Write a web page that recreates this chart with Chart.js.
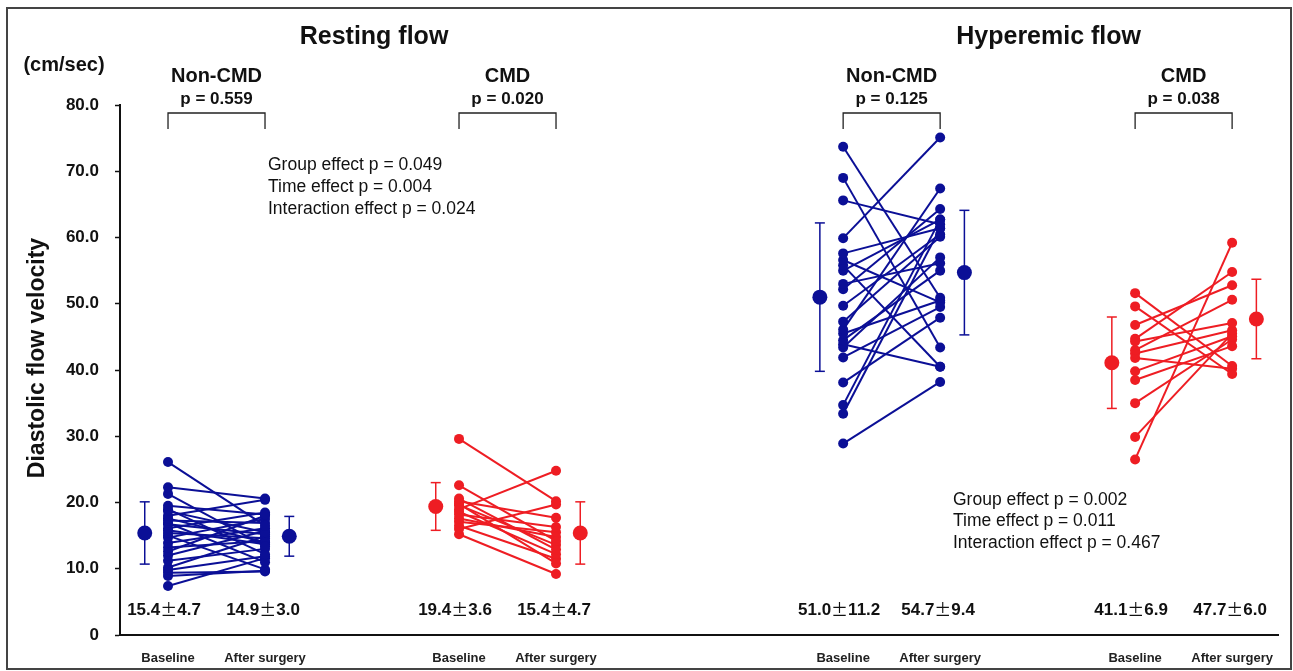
<!DOCTYPE html>
<html><head><meta charset="utf-8">
<script src="https://cdn.jsdelivr.net/npm/chart.js@4.4.1/dist/chart.umd.min.js"></script>
<style>html,body{margin:0;padding:0;background:#fff;overflow:hidden}#wrap{width:1293px;height:671px;position:relative}</style>
</head><body><div id="wrap"><canvas id="c" width="1293" height="671"></canvas></div>
<script>
// ---------- data ----------
const panelTitles = ['Resting flow', 'Hyperemic flow'];
const groupNames = ['Non-CMD', 'CMD', 'Non-CMD', 'CMD'];
const pValues = ['p = 0.559', 'p = 0.020', 'p = 0.125', 'p = 0.038'];
const groupPos = [0, 3, 6.96, 9.97];          // baseline slot of each group; after = +1
const timeLabels = ['Baseline', 'After surgery'];
const yTicks = [0, 10, 20, 30, 40, 50, 60, 70, 80];

const restNonCmdBase  = [26.1, 22.3, 21.3, 19.5, 19.0, 18.7, 18.0, 17.6, 17.3, 16.9, 16.7, 16.1, 15.8, 15.4, 15.0, 14.7, 13.9, 13.2, 12.6, 12.0, 11.2, 10.2, 9.8, 9.4, 8.9, 7.4];
const restNonCmdAfter = [16.5, 20.6, 13.4, 18.2, 12.2, 15.5, 20.4, 14.0, 16.9, 11.0, 15.2, 18.5, 13.7, 14.6, 9.9, 17.5, 16.1, 14.2, 18.0, 15.7, 13.0, 14.9, 11.9, 9.6, 9.7, 11.6];

const restCmdBase  = [29.6, 22.6, 20.6, 20.2, 19.8, 19.6, 19.0, 18.6, 18.2, 17.6, 17.1, 16.5, 16.0, 15.2];
const restCmdAfter = [20.2, 14.2, 12.9, 17.7, 10.8, 13.6, 24.8, 12.2, 16.3, 14.8, 15.5, 11.5, 19.7, 9.2];

const hypNonCmdBase  = [73.7, 69.0, 65.6, 59.9, 57.6, 56.6, 55.8, 55.0, 53.0, 52.2, 49.7, 47.3, 46.1, 45.5, 44.5, 43.9, 43.4, 41.9, 38.1, 34.7, 33.4, 28.9];
const hypNonCmdAfter = [50.9, 43.4, 62.0, 75.1, 61.4, 50.2, 40.5, 62.7, 56.1, 64.3, 60.5, 60.1, 67.4, 50.5, 55.0, 40.5, 57.0, 49.5, 47.9, 62.7, 61.4, 38.2];

const hypCmdBase  = [51.6, 49.6, 46.8, 44.7, 44.3, 43.0, 42.5, 41.8, 39.8, 38.5, 35.0, 29.9, 26.5];
const hypCmdAfter = [40.6, 39.4, 52.8, 54.8, 47.1, 50.6, 46.0, 40.2, 45.1, 43.6, 44.6, 45.5, 59.2];

const meanValues = [15.4, 14.9, 19.4, 15.4, 51.0, 54.7, 41.1, 47.7];
const sdValues   = [4.7, 3.0, 3.6, 4.7, 11.2, 9.4, 6.9, 6.0];
const meanText   = ['15.4', '14.9', '19.4', '15.4', '51.0', '54.7', '41.1', '47.7'];
const sdText     = ['4.7', '3.0', '3.6', '4.7', '11.2', '9.4', '6.9', '6.0'];

const statsRest  = ['Group effect p = 0.049', 'Time effect p = 0.004', 'Interaction effect p = 0.024'];
const statsHyper = ['Group effect p = 0.002', 'Time effect p = 0.011', 'Interaction effect p = 0.467'];

// ---------- styles ----------
const BLUE = '#0b0f96', RED = '#ee1d23';
const groupColors = [BLUE, RED, BLUE, RED];
const FONT = '"Liberation Sans", Arial, Helvetica, sans-serif';
const CJK = '"Noto Sans CJK JP", "Noto Sans CJK SC", sans-serif';

const pairs = [
  [restNonCmdBase, restNonCmdAfter],
  [restCmdBase, restCmdAfter],
  [hypNonCmdBase, hypNonCmdAfter],
  [hypCmdBase, hypCmdAfter]
];

const datasets = [];
pairs.forEach(([b, a], g) => {
  const col = groupColors[g];
  b.forEach((v, i) => {
    datasets.push({
      data: [{x: groupPos[g], y: v}, {x: groupPos[g] + 1, y: a[i]}],
      showLine: true, borderColor: col, borderWidth: 2,
      pointRadius: 5, pointBackgroundColor: col, pointBorderWidth: 0,
      order: 2
    });
  });
  [[-0.24, 0], [1.25, 1]].forEach(([off, t]) => {
    const k = g * 2 + t, x = groupPos[g] + off;
    datasets.push({
      data: [{x, y: meanValues[k] - sdValues[k]}, {x, y: meanValues[k] + sdValues[k]}],
      showLine: true, borderColor: col, borderWidth: 1.5,
      pointStyle: 'line', pointRadius: 5, pointBorderColor: col, pointBorderWidth: 1.5,
      order: 1
    });
    datasets.push({
      data: [{x, y: meanValues[k]}],
      pointRadius: 7.5, pointBackgroundColor: col, pointBorderWidth: 0,
      order: 0
    });
  });
});

const xTickValues = [];
groupPos.forEach(p => { xTickValues.push(p, p + 1); });

function txt(ctx, s, x, y, font, align) {
  ctx.font = font; ctx.textAlign = align || 'center'; ctx.textBaseline = 'middle';
  ctx.fillStyle = '#111'; ctx.fillText(s, x, y);
}
// "m±sd" with a full-width ± sign, centred at x
function meanSd(ctx, m, sd, x, y) {
  const f1 = 'bold 17px ' + FONT, f2 = '17px ' + CJK;
  ctx.font = f1; const w1 = ctx.measureText(m).width, w3 = ctx.measureText(sd).width;
  ctx.font = f2; const w2 = ctx.measureText('\u00b1').width;
  let left = x - (w1 + w2 + w3) / 2;
  txt(ctx, m, left, y, f1, 'left'); left += w1;
  txt(ctx, '\u00b1', left, y, f2, 'left'); left += w2;
  txt(ctx, sd, left, y, f1, 'left');
}

const annot = {
  id: 'annot',
  beforeDraw(chart) {
    const ctx = chart.ctx;
    ctx.save(); ctx.fillStyle = '#fff'; ctx.fillRect(0, 0, chart.width, chart.height); ctx.restore();
  },
  afterDraw(chart) {
    const ctx = chart.ctx, xs = chart.scales.x;
    ctx.save();
    ctx.strokeStyle = '#444'; ctx.lineWidth = 2;
    ctx.strokeRect(7, 8, 1284, 661);
    const c1 = xs.getPixelForValue((groupPos[0] + groupPos[1] + 1) / 2) + 12;
    const c2 = xs.getPixelForValue((groupPos[2] + groupPos[3] + 1) / 2) + 11;
    txt(ctx, panelTitles[0], c1, 37, 'bold 25px ' + FONT);
    txt(ctx, panelTitles[1], c2, 37, 'bold 25px ' + FONT);
    txt(ctx, '(cm/sec)', 64, 65, 'bold 20px ' + FONT);
    ctx.save(); ctx.translate(38, 358); ctx.rotate(-Math.PI / 2);
    txt(ctx, 'Diastolic flow velocity', 0, 0, 'bold 23px ' + FONT);
    ctx.restore();
    groupPos.forEach((p, g) => {
      const xb = xs.getPixelForValue(p), xa = xs.getPixelForValue(p + 1), xm = (xb + xa) / 2;
      txt(ctx, groupNames[g], xm, 76, 'bold 20px ' + FONT);
      txt(ctx, pValues[g], xm, 99, 'bold 17px ' + FONT);
      ctx.strokeStyle = '#222'; ctx.lineWidth = 1.3;
      ctx.beginPath(); ctx.moveTo(xb, 129); ctx.lineTo(xb, 113); ctx.lineTo(xa, 113); ctx.lineTo(xa, 129); ctx.stroke();
      meanSd(ctx, meanText[g * 2], sdText[g * 2], xb - 4, 610);
      meanSd(ctx, meanText[g * 2 + 1], sdText[g * 2 + 1], xa - 2, 610);
    });
    statsRest.forEach((s, i) => txt(ctx, s, 268, 165 + i * 22, '17.5px ' + FONT, 'left'));
    statsHyper.forEach((s, i) => txt(ctx, s, 953, 500 + i * 21.5, '17.5px ' + FONT, 'left'));
    ctx.restore();
  }
};

new Chart(document.getElementById('c'), {
  type: 'scatter',
  data: { datasets },
  options: {
    responsive: false, animation: false,
    layout: { padding: { left: 0, right: 15, top: 105, bottom: 0 } },
    plugins: { legend: { display: false }, tooltip: { enabled: false } },
    elements: { line: { tension: 0 } },
    scales: {
      x: {
        type: 'linear', min: -0.495, max: 11.443,
        afterFit(s) { s.height = 36; },
        afterBuildTicks(s) { s.ticks = xTickValues.map(v => ({ value: v })); },
        grid: { display: false },
        border: { display: true, color: '#111', width: 2 },
        ticks: {
          autoSkip: false, maxRotation: 0, padding: 8, color: '#222',
          font: { family: FONT, size: 13, weight: 'bold' },
          callback(v) { const i = xTickValues.indexOf(v); return i < 0 ? '' : timeLabels[i % 2]; }
        }
      },
      y: {
        min: 0, max: 80,
        afterFit(s) { s.width = 120; },
        afterBuildTicks(s) { s.ticks = yTicks.map(v => ({ value: v })); },
        grid: { display: true, drawOnChartArea: false, drawTicks: true, tickLength: 5, tickColor: '#111', tickWidth: 1.5 },
        border: { display: true, color: '#111', width: 2 },
        ticks: {
          padding: 16, color: '#111',
          font: { family: FONT, size: 17, weight: 'bold' },
          callback(v) { return v === 0 ? '0' : v.toFixed(1); }
        }
      }
    }
  },
  plugins: [annot]
});
</script>
</body></html>
